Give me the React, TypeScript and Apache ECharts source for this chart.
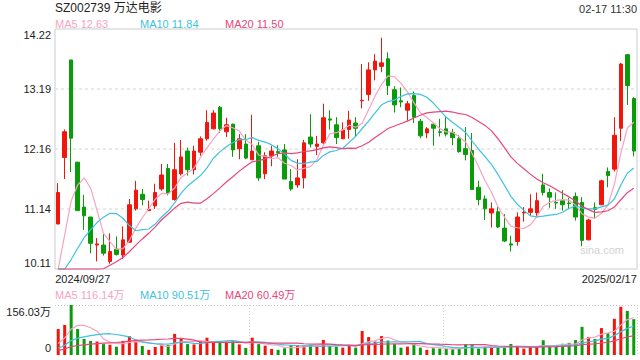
import React, { useEffect, useRef } from "react";
import * as echarts from "echarts";

// ---- data ----
const tradingDays: [string, number[]][] = [
  ["2024/09", [27, 30]],
  ["2024/10", [8, 9, 10, 11, 14, 15, 16, 17, 18, 21, 22, 23, 24, 25, 28, 29, 30, 31]],
  ["2024/11", [1, 4, 5, 6, 7, 8, 11, 12, 13, 14, 15, 18, 19, 20, 21, 22, 25, 26, 27, 28, 29]],
  ["2024/12", [2, 3, 4, 5, 6, 9, 10, 11, 12, 13, 16, 17, 18, 19, 20, 23, 24, 25, 26, 27, 30, 31]],
  ["2025/01", [2, 3, 6, 7, 8, 9, 10, 13, 14, 15, 16, 17, 20, 21, 22, 23, 24, 27]],
  ["2025/02", [5, 6, 7, 10, 11, 12, 13, 14, 17]],
];
const dates: string[] = tradingDays.flatMap(([m, ds]) => ds.map((d) => `${m}/${String(d).padStart(2, "0")}`));

const opens = [
  10.88, 12.02, 13.69, 11.94, 11.17, 11.0, 10.52, 10.52, 10.24, 10.45,
  10.35, 10.57, 11.14, 11.39, 11.11, 11.19, 11.48, 11.83, 11.3, 11.74,
  12.13, 11.81, 12.11, 12.34, 12.51, 12.88, 12.46, 12.59, 12.17, 12.25,
  11.98, 12.22, 11.74, 12.05, 12.12, 12.15, 11.61, 11.55, 11.67, 12.37,
  12.21, 12.27, 12.68, 12.58, 12.34, 12.5, 12.61, 12.99, 13.1, 13.52,
  13.58, 13.71, 13.18, 12.99, 12.83, 13.08, 12.64, 12.44, 12.59, 12.46,
  12.51, 12.45, 12.34, 12.17, 12.14, 11.51, 11.31, 11.07, 11.09, 10.81,
  10.54, 10.58, 11.07, 11.08, 11.07, 11.55, 11.42, 11.25, 11.28, 11.24,
  11.35, 11.25, 10.61, 11.16, 11.21, 11.78, 11.82, 12.52, 13.78, 13.03,
];
const closes = [
  11.42, 12.46, 12.35, 11.11, 11.02, 10.55, 10.54, 10.38, 10.41, 10.36,
  10.61, 11.21, 11.46, 11.3, 11.13, 11.42, 11.72, 11.41, 11.81, 12.03,
  11.81, 12.13, 12.34, 12.62, 12.78, 12.51, 12.58, 12.15, 12.34, 12.01,
  12.13, 11.67, 12.05, 12.13, 12.1, 11.65, 11.48, 11.67, 12.27, 12.25,
  12.25, 12.7, 12.66, 12.36, 12.49, 12.66, 12.52, 13.0, 13.52, 13.67,
  13.64, 13.25, 12.92, 12.97, 12.94, 12.71, 12.39, 12.51, 12.52, 12.45,
  12.42, 12.36, 12.12, 12.07, 11.47, 11.3, 11.14, 11.14, 10.83, 10.59,
  10.52, 11.0, 11.08, 11.14, 11.28, 11.42, 11.34, 11.24, 11.21, 11.23,
  11.0, 10.6, 10.95, 11.13, 11.62, 11.71, 12.4, 13.62, 13.25, 12.13,
];
const lows = [
  10.88, 11.65, 11.77, 11.11, 10.78, 10.38, 10.24, 10.34, 10.2, 10.34,
  10.28, 10.56, 11.11, 11.2, 11.11, 11.14, 11.45, 11.37, 11.28, 11.71,
  11.71, 11.73, 12.05, 12.31, 12.5, 12.44, 12.37, 12.03, 11.99, 11.99,
  11.98, 11.62, 11.65, 11.87, 12.03, 11.65, 11.45, 11.5, 11.49, 12.19,
  12.06, 12.25, 12.5, 12.25, 12.34, 12.34, 12.38, 12.86, 12.99, 13.34,
  13.48, 13.09, 12.79, 12.88, 12.65, 12.61, 12.35, 12.35, 12.22, 12.38,
  12.38, 12.23, 12.1, 11.97, 11.47, 11.2, 10.95, 10.82, 10.81, 10.57,
  10.41, 10.51, 10.92, 11.02, 11.02, 11.37, 11.16, 11.14, 11.11, 11.14,
  10.94, 10.5, 10.6, 10.97, 11.21, 11.51, 11.78, 12.3, 12.92, 12.04,
];
const highs = [
  11.58, 12.5, 13.69, 11.94, 11.38, 11.0, 10.64, 10.71, 10.72, 10.67,
  10.84, 11.31, 11.62, 11.48, 11.28, 11.57, 11.91, 11.91, 12.27, 12.32,
  12.19, 12.22, 12.38, 12.83, 12.83, 12.9, 12.7, 12.6, 12.42, 12.42,
  12.75, 12.29, 12.11, 12.22, 12.23, 12.25, 11.82, 11.99, 12.32, 12.76,
  12.39, 12.94, 12.83, 12.71, 12.62, 12.82, 12.71, 13.62, 13.65, 13.79,
  14.07, 13.82, 13.24, 13.22, 12.99, 13.15, 12.68, 12.54, 12.59, 12.68,
  12.71, 12.51, 12.4, 12.54, 12.44, 11.62, 11.37, 11.25, 11.17, 11.05,
  10.68, 11.08, 11.17, 11.39, 11.42, 11.74, 11.49, 11.42, 11.46, 11.33,
  11.42, 11.34, 10.97, 11.25, 11.64, 11.85, 12.71, 13.64, 13.79, 13.05,
];
// volume, in 万 shares
const volumes = [
  81, 94, 156.03, 81, 50, 44, 42, 34, 32, 26,
  44, 59, 48, 28, 16, 25, 33, 31, 66, 50,
  34, 33, 42, 54, 42, 40, 42, 46, 33, 22,
  54, 34, 29, 19, 16, 21, 31, 31, 29, 31,
  26, 47, 28, 26, 23, 28, 23, 75, 56, 42,
  59, 45, 34, 23, 26, 34, 23, 16, 21, 20,
  20, 18, 19, 34, 34, 20, 25, 23, 26, 26,
  34, 26.7, 20, 25, 28, 46, 26, 26, 35, 38,
  46.4, 88, 56, 50, 84, 68, 113, 150.5, 137.5, 111.7,
];
// the 19 sessions before the first visible day (estimated from where the MA lines enter)
const priorCloses = [
  9.25, 9.2, 9.18, 9.22, 9.15, 9.1, 9.12, 9.2, 9.18, 9.15,
  9.22, 9.2, 9.18, 9.21, 9.2, 9.3, 9.45, 9.75, 10.4,
];
const priorVolumes = [7, 7, 7, 7, 7, 7, 7, 7, 7, 7, 7, 7, 7, 7, 7, 8, 15, 25, 50];

const maPeriods = [5, 10, 20];
const priceTicks = ["10.11", "11.14", "12.16", "13.19", "14.22"];
const volTicks = ["0", "156.03万"];
const PRICE_MIN = 10.11;
const PRICE_MAX = 14.22;
const VOL_MAX = 156.03;

const titleText = "SZ002739 万达电影";
const timeText = "02-17 11:30";
const priceMaLabels = ["MA5 12.63", "MA10 11.84", "MA20 11.50"];
const volMaLabels = ["MA5 116.14万", "MA10 90.51万", "MA20 60.49万"];
const watermark = "sina.com";

// ---- style ----
const RED = "#f0160c";
const GREEN = "#0a9b0a";
const MA_COLORS = ["#f7a3c2", "#3ec2e0", "#e8467c"];
const FONT = "'Liberation Sans', Arial, 'Noto Sans CJK SC', sans-serif";

function movingAverage(values: number[], prior: number[], n: number): number[] {
  const all = prior.concat(values);
  const off = prior.length;
  return values.map((_, i) => {
    const end = off + i;
    let s = 0;
    for (let k = end - n + 1; k <= end; k++) s += all[k] ?? 0;
    return +(s / n).toFixed(3);
  });
}

function text(x: number, y: number, t: string, color: string, size: number, align = "left") {
  return {
    type: "text",
    x,
    y,
    silent: true,
    style: {
      text: t,
      fill: color,
      fontSize: size,
      fontFamily: FONT,
      align,
      verticalAlign: "middle",
      textAlign: align,
      textVerticalAlign: "middle",
    },
  };
}

export default function App() {
  const ref = useRef<HTMLDivElement>(null);

  useEffect(() => {
    document.body.style.margin = "0";
    if (!ref.current) return;
    const chart = echarts.init(ref.current, undefined, { renderer: "svg" });

    const candleData = opens.map((o, i) => [o, closes[i], lows[i], highs[i]]);
    const priceMAs = maPeriods.map((n) =>
      movingAverage(closes, priorCloses, n).map((v) => Math.max(v, PRICE_MIN))
    );
    const volMAs = maPeriods.map((n) => movingAverage(volumes, priorVolumes, n));
    const volData = volumes.map((v, i) => ({
      value: v,
      itemStyle: { color: closes[i] >= opens[i] ? RED : GREEN },
    }));
    const last = dates.length - 1;

    const option: any = {
      animation: false,
      backgroundColor: "#ffffff",
      textStyle: { fontFamily: FONT },
      grid: [
        { left: 55, right: 3, top: 29, height: 240, show: true, borderColor: "#cccccc", borderWidth: 1, backgroundColor: "transparent" },
        { left: 55, right: 3, top: 305, height: 50 },
      ],
      xAxis: [
        {
          type: "category",
          gridIndex: 0,
          data: dates,
          boundaryGap: true,
          axisLine: { show: false },
          axisTick: { show: false },
          splitLine: { show: false },
          axisLabel: {
            interval: (i: number) => i === 0 || i === last,
            margin: 4,
            color: "#222",
            fontSize: 11,
            fontFamily: FONT,
            formatter: (v: string, i: number) => (i === 0 ? `{l|${v}}` : `{r|${v}}`),
            rich: {
              l: { padding: [0, 0, 0, 49], fontSize: 11, color: "#222", fontFamily: FONT },
              r: { padding: [0, 49, 0, 0], fontSize: 11, color: "#222", fontFamily: FONT },
            },
          },
        },
        {
          type: "category",
          gridIndex: 1,
          data: dates,
          boundaryGap: true,
          axisLine: { show: false },
          axisTick: { show: false },
          axisLabel: { show: false },
          splitLine: {
            show: true,
            interval: (i: number) => i > 0 && i % 30 === 0,
            lineStyle: { color: "#cfcfcf", type: [1, 2], width: 1 },
          },
        },
      ],
      yAxis: [
        { type: "value", gridIndex: 0, min: PRICE_MIN, max: PRICE_MAX, show: false },
        {
          type: "value",
          gridIndex: 0,
          position: "left",
          min: 0,
          max: priceTicks.length - 1,
          interval: 1,
          axisLine: { show: false },
          axisTick: { show: false },
          splitLine: {
            show: true,
            lineStyle: { color: ["transparent", "#e2e2e2", "#e2e2e2", "#e2e2e2", "transparent"], type: [3, 3], width: 1.5 },
          },
          axisLabel: {
            margin: 4,
            color: "#222",
            fontSize: 11,
            fontFamily: FONT,
            formatter: (v: number) => {
              const k = Math.round(v);
              const t = priceTicks[k];
              if (k === priceTicks.length - 1) return `{t|${t}}`;
              if (k === 0) return `{b|${t}}`;
              return t;
            },
            rich: {
              t: { padding: [12, 0, 0, 0], fontSize: 11, color: "#222", fontFamily: FONT },
              b: { padding: [0, 0, 12, 0], fontSize: 11, color: "#222", fontFamily: FONT },
            },
          },
        },
        {
          type: "value",
          gridIndex: 1,
          min: 0,
          max: VOL_MAX,
          interval: VOL_MAX,
          axisLine: { show: false },
          axisTick: { show: false },
          splitLine: { show: true, lineStyle: { color: ["transparent", "#c4c4c4"], type: [1, 2], width: 1 } },
          axisLabel: {
            margin: 4,
            color: "#222",
            fontSize: 11,
            fontFamily: FONT,
            formatter: (v: number) => (v === 0 ? `{b|${volTicks[0]}}` : `{t|${volTicks[1]}}`),
            rich: {
              t: { padding: [14, 0, 0, 0], fontSize: 11, color: "#222", fontFamily: FONT },
              b: { padding: [0, 0, 14, 0], fontSize: 11, color: "#222", fontFamily: FONT },
            },
          },
        },
      ],
      graphic: [
        text(55, 8, titleText, "#222", 12),
        text(637, 9, timeText, "#333", 11, "right"),
        ...priceMaLabels.map((t, k) => text(55 + k * 85, 24, t, MA_COLORS[k], 11)),
        ...volMaLabels.map((t, k) => text(55 + k * 85, 295, t, MA_COLORS[k], 11)),
        text(602, 250, watermark, "#d2d2d2", 11, "center"),
      ],
      series: [
        {
          type: "candlestick",
          xAxisIndex: 0,
          yAxisIndex: 0,
          data: candleData,
          barWidth: 4,
          itemStyle: { color: RED, color0: GREEN, borderColor: RED, borderColor0: GREEN, borderWidth: 1 },
        },
        ...priceMAs.map((d, k) => ({
          type: "line",
          name: `MA${maPeriods[k]}`,
          xAxisIndex: 0,
          yAxisIndex: 0,
          data: d,
          showSymbol: false,
          symbol: "none",
          clip: false,
          lineStyle: { color: MA_COLORS[k], width: 1.2 },
          z: 3,
        })),
        {
          type: "bar",
          xAxisIndex: 1,
          yAxisIndex: 2,
          data: volData,
          barWidth: 3,
        },
        ...volMAs.map((d, k) => ({
          type: "line",
          xAxisIndex: 1,
          yAxisIndex: 2,
          data: d,
          showSymbol: false,
          symbol: "none",
          lineStyle: { color: MA_COLORS[k], width: 1.2 },
          z: 3,
        })),
      ],
    };

    chart.setOption(option);
    return () => chart.dispose();
  }, []);

  return <div ref={ref} style={{ width: 640, height: 360 }} />;
}
